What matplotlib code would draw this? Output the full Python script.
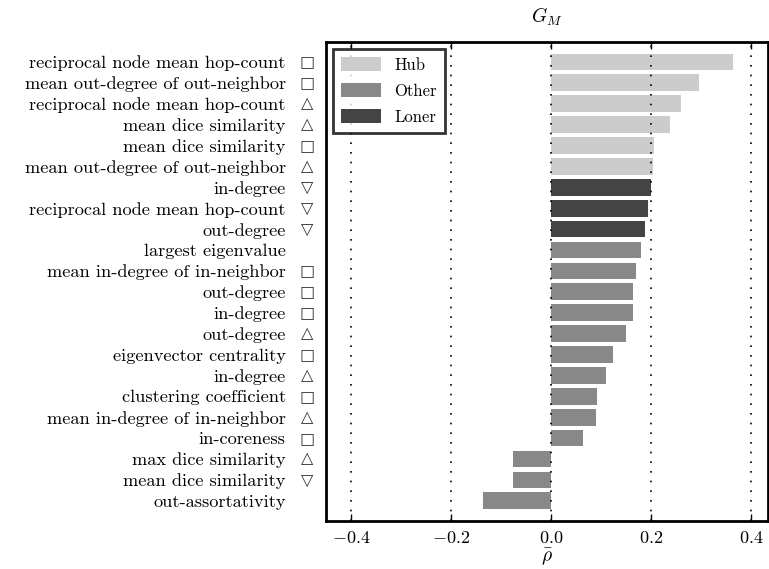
import numpy as np
import matplotlib
matplotlib.use("Agg")
import matplotlib.pyplot as plt
import matplotlib.transforms as mtransforms
from matplotlib.patches import Patch

plt.rcParams['font.family'] = ['cmr10', 'DejaVu Serif']
plt.rcParams['mathtext.fontset'] = 'cm'
plt.rcParams['axes.formatter.use_mathtext'] = True

# data, top to bottom
names = ["reciprocal node mean hop-count", "mean out-degree of out-neighbor",
         "reciprocal node mean hop-count", "mean dice similarity",
         "mean dice similarity", "mean out-degree of out-neighbor",
         "in-degree", "reciprocal node mean hop-count", "out-degree",
         "largest eigenvalue", "mean in-degree of in-neighbor", "out-degree",
         "in-degree", "out-degree", "eigenvector centrality", "in-degree",
         "clustering coefficient", "mean in-degree of in-neighbor",
         "in-coreness", "max dice similarity", "mean dice similarity",
         "out-assortativity"]
symbols = ["\u25a1", "\u25a1", "\u25b3", "\u25b3", "\u25a1", "\u25b3",
           "\u25bd", "\u25bd", "\u25bd", "", "\u25a1", "\u25a1",
           "\u25a1", "\u25b3", "\u25a1", "\u25b3", "\u25a1", "\u25b3",
           "\u25a1", "\u25b3", "\u25bd", ""]
rho = [0.364, 0.296, 0.260, 0.238, 0.205, 0.203, 0.200, 0.194, 0.188,
       0.180, 0.170, 0.164, 0.164, 0.150, 0.124, 0.110, 0.092, 0.090,
       0.064, -0.076, -0.076, -0.136]
group = ["Hub"] * 6 + ["Loner"] * 3 + ["Other"] * 13
colors = {"Hub": "#cccccc", "Other": "#888888", "Loner": "#444444"}

fig = plt.figure(figsize=(7.69, 5.69), dpi=100)
ax = fig.add_axes([0.424, 0.085, 0.575, 0.841])

n = len(rho)
y = np.arange(n)[::-1]
ax.barh(y, rho, height=0.8, color=[colors[g] for g in group], linewidth=0, zorder=2)

ax.set_xlim(-0.45, 0.434)
ax.set_ylim(-0.95, n - 0.05)
ax.set_xticks([-0.4, -0.2, 0.0, 0.2, 0.4])
ax.xaxis.grid(True, linestyle=(0, (1, 4.8)), color='black', linewidth=1.2, zorder=3)
ax.set_axisbelow(False)
ax.tick_params(axis='x', direction='in', top=True, length=5, width=1, labelsize=13, pad=7)
ax.set_yticks(y)
ax.set_yticklabels(names, fontsize=13.2)
ax.tick_params(axis='y', length=0, pad=29)
for s in ax.spines.values():
    s.set_linewidth(2)

trans = mtransforms.blended_transform_factory(ax.transAxes, ax.transData)
for yi, sym in zip(y, symbols):
    if sym:
        ax.text(-0.042, yi, sym, transform=trans, ha='center', va='center',
                fontsize=11.5, family='DejaVu Sans', color='#333333')

ax.set_title("$G_M$", fontsize=14, pad=14)
ax.set_xlabel(r"$\bar{\rho}$", fontsize=14, labelpad=0)

handles = [Patch(facecolor=colors[k], edgecolor='none', label=k) for k in ["Hub", "Other", "Loner"]]
leg = ax.legend(handles=handles, loc='upper left', fontsize=12, handlelength=2.4,
                handleheight=0.9, labelspacing=0.62, fancybox=False, borderpad=0.5,
                handletextpad=0.8, borderaxespad=0.4)
leg.get_frame().set_edgecolor('black')
leg.get_frame().set_linewidth(2)

fig.savefig("out.png", dpi=100)
